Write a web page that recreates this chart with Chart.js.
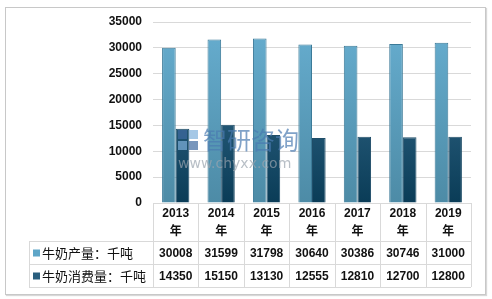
<!DOCTYPE html>
<html>
<head>
<meta charset="utf-8">
<script src="https://cdn.jsdelivr.net/npm/chart.js@4/dist/chart.umd.min.js"></script>
<style>
  html, body { margin: 0; padding: 0; background: #fff; }
  .frame { position: absolute; left: 5px; top: 7px; width: 479px; height: 286px; border: 1px solid #c8c8c8; box-shadow: 1px 1px 1px #d8d8d8; }
  canvas { position: absolute; left: 0; top: 0; }
</style>
</head>
<body>
<div class="frame"></div>
<canvas id="c" width="492" height="299"></canvas>
<script>
// ── Data ──────────────────────────────────────────────────────────────────
const years       = ['2013', '2014', '2015', '2016', '2017', '2018', '2019']
const production  = [30008, 31599, 31798, 30640, 30386, 30746, 31000]
const consumption = [14350, 15150, 13130, 12555, 12810, 12700, 12800]
const seriesNames = ['牛奶产量：千吨', '牛奶消费量：千吨']
const yearSuffix  = '年'

const CJK = '"Noto Sans CJK SC", "Noto Sans", sans-serif'
const NUM = '"Liberation Sans", Arial, sans-serif'

function vGrad(chart, top, bottom) {
  const { ctx, chartArea } = chart
  if (!chartArea) return top
  const g = ctx.createLinearGradient(0, chartArea.top, 0, chartArea.bottom)
  g.addColorStop(0, top)
  g.addColorStop(1, bottom)
  return g
}

// ── Data table under the plot ──────────────────────────────────────────────
const tablePlugin = {
  id: 'dataTable',
  afterDraw(chart) {
    const { ctx, chartArea, scales } = chart
    const x = scales.x
    const top = chartArea.bottom
    const rowY = [top, top + 38, top + 61, top + 84]
    const left = 29
    const colW = (chartArea.right - chartArea.left) / years.length
    ctx.save()
    ctx.strokeStyle = '#d9d9d9'
    ctx.lineWidth = 1
    // horizontal lines
    ctx.beginPath()
    ctx.moveTo(chartArea.left, rowY[0] + 0.5); ctx.lineTo(chartArea.right, rowY[0] + 0.5)
    for (let i = 1; i < 4; i++) {
      ctx.moveTo(left, rowY[i] + 0.5); ctx.lineTo(chartArea.right, rowY[i] + 0.5)
    }
    // vertical lines
    ctx.moveTo(left + 0.5, rowY[1]); ctx.lineTo(left + 0.5, rowY[3])
    for (let i = 0; i <= years.length; i++) {
      const xx = Math.round(chartArea.left + i * colW) + 0.5
      ctx.moveTo(xx, rowY[0]); ctx.lineTo(xx, rowY[3])
    }
    ctx.stroke()

    ctx.fillStyle = '#111'
    ctx.textAlign = 'center'
    ctx.textBaseline = 'middle'
    years.forEach((y, i) => {
      const cx = x.getPixelForValue(i)
      ctx.font = 'bold 12px ' + NUM
      ctx.fillText(y, cx, rowY[0] + 11)
      ctx.font = 'bold 12px ' + CJK
      ctx.fillText(yearSuffix, cx, rowY[0] + 27)
      ctx.font = 'bold 12px ' + NUM
      ctx.fillText(String(production[i]), cx, (rowY[1] + rowY[2]) / 2 + 1)
      ctx.fillText(String(consumption[i]), cx, (rowY[2] + rowY[3]) / 2 + 1)
    })

    // legend cells
    const swatch = ['#5ea6c8', '#2a5f7e']
    ctx.textAlign = 'left'
    ctx.font = '13px ' + CJK
    seriesNames.forEach((name, k) => {
      const cy = (rowY[k + 1] + rowY[k + 2]) / 2
      ctx.fillStyle = swatch[k]
      ctx.fillRect(33, cy - 3, 7, 7)
      ctx.fillStyle = '#111'
      ctx.fillText(name, 42, cy + 1)
    })

    // watermark
    ctx.globalAlpha = 0.7
    ctx.fillStyle = '#3f6aa0'
    ctx.fillRect(178, 130, 9, 9)
    ctx.fillStyle = '#7fb0dc'
    ctx.fillRect(189, 130, 9, 9)
    ctx.fillRect(178, 141, 9, 9)
    ctx.fillStyle = '#3f6aa0'
    ctx.fillRect(189, 141, 9, 9)
    ctx.font = '24px ' + CJK
    ctx.fillStyle = '#4a7bb0'
    ctx.textBaseline = 'middle'
    ctx.fillText('智研咨询', 203, 140)
    ctx.font = '14px "DejaVu Sans", sans-serif'
    ctx.fillStyle = '#9aa4ae'
    ctx.fillText('www.chyxx.com', 178, 164)
    ctx.restore()
  }
}

new Chart(document.getElementById('c'), {
  type: 'bar',
  data: {
    labels: years,
    datasets: [
      {
        label: seriesNames[0],
        data: production,
        backgroundColor: c => vGrad(c.chart, '#67aed0', '#4d8ba6'),
        borderColor: '#3b7a98',
        borderWidth: 1
      },
      {
        label: seriesNames[1],
        data: consumption,
        backgroundColor: c => vGrad(c.chart, '#3f7698', '#0a3c57'),
        borderColor: '#1f4d68',
        borderWidth: 1
      }
    ]
  },
  options: {
    responsive: false,
    animation: false,
    devicePixelRatio: 1,
    layout: { padding: { left: 0, top: 22, right: 21, bottom: 96 } },
    datasets: { bar: { categoryPercentage: 0.6, barPercentage: 1 } },
    plugins: { legend: { display: false }, tooltip: { enabled: false } },
    scales: {
      x: { display: false },
      y: {
        min: 0,
        max: 35000,
        afterFit: s => { s.width = 153 },
        border: { display: false },
        grid: { color: '#d9d9d9', drawTicks: false },
        ticks: {
          stepSize: 5000,
          padding: 11,
          color: '#111',
          font: { family: NUM, size: 12, weight: 'bold' },
          callback: v => String(v)
        }
      }
    }
  },
  plugins: [tablePlugin]
})
</script>
</body>
</html>
